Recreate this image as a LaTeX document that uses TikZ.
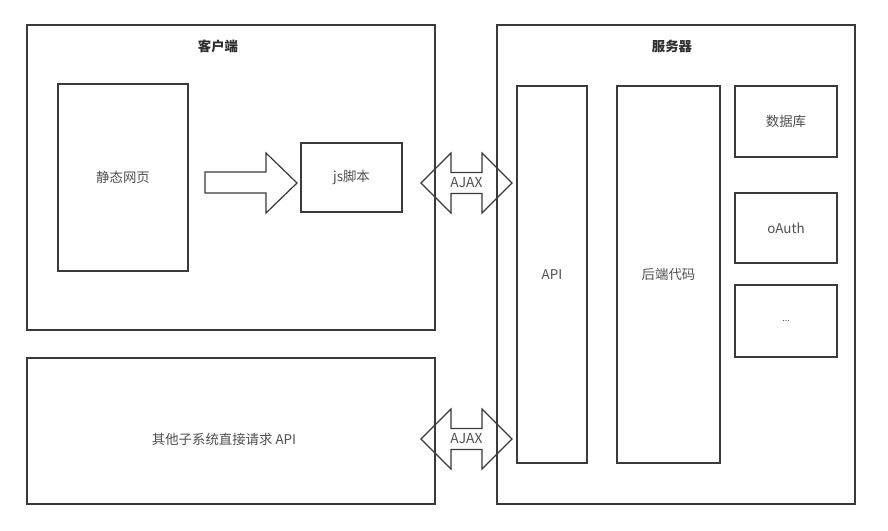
\documentclass[tikz,border=0pt]{standalone}
\usepackage{fontspec}
\setmainfont{Noto Sans CJK SC}
\usetikzlibrary{positioning}
\definecolor{ink}{HTML}{3A3A3A}
\definecolor{inktext}{HTML}{505050}
\definecolor{inktitle}{HTML}{2E2E2E}
\tikzset{
  box/.style={draw=ink,line width=1.2pt,inner sep=0pt,
              font=\fontsize{13.4}{15}\selectfont,text=inktext},
  boxtitle/.style={font=\fontsize{13.4}{15}\selectfont\bfseries,text=inktitle,
                   inner sep=0pt},
  boxlabel/.style={font=\fontsize{13.4}{15}\selectfont,text=inktext,inner sep=0pt},
  blockarr/.style={draw=ink,line width=1.2pt,line join=miter},
  ajaxlbl/.style={font=\fontsize{13.8}{15}\selectfont,text=inktext,inner sep=0pt}
}
\begin{document}
\begin{tikzpicture}[x=1pt,y=-1pt]
  \path[use as bounding box,fill=white] (0,0) rectangle (888,530);
  % client side
  \node[box,minimum width=408pt,minimum height=305pt] (client) at (231,177.5) {};
  \node[boxtitle] (clienttitle) at (218,46) {客户端};
  \node[box,minimum width=130pt,minimum height=187pt] (static) at (123,177.5) {静态网页};
  \node[box,minimum width=101pt,minimum height=69pt] (jsfile) at (351.5,177.5) {js脚本};
  \draw[blockarr] (205,172) -- (266,172) -- (266,153) -- (297,183)
    -- (266,213) -- (266,193) -- (205,193) -- cycle;
  % other subsystems
  \node[box,minimum width=408pt,minimum height=146pt] (other) at (231,431) {};
  \node[boxlabel] (otherlbl) at (224,439) {其他子系统直接请求 API};
  % server side
  \node[box,minimum width=358pt,minimum height=479pt] (server) at (676,264.5) {};
  \node[boxtitle] (servertitle) at (672,46) {服务器};
  \node[box,minimum width=70pt,minimum height=377pt] (api) at (552,274.5) {API};
  \node[box,minimum width=103pt,minimum height=377pt] (backend) at (668.5,274.5) {后端代码};
  \node[box,minimum width=102pt,minimum height=71pt] (db) at (786,121.5) {数据库};
  \node[box,minimum width=102pt,minimum height=70pt] (oauth) at (786,228) {oAuth};
  \node[box,minimum width=102pt,minimum height=72pt,
        font=\fontsize{9}{10}\selectfont] (more) at (786,321) {...};
  % requests
  \foreach \y/\n in {183/top,439/bot}{
    \draw[blockarr] (421,\y) -- (451,{\y-30}) -- (451,{\y-10.5}) -- (482,{\y-10.5})
      -- (482,{\y-30}) -- (512,\y) -- (482,{\y+30}) -- (482,{\y+10.5})
      -- (451,{\y+10.5}) -- (451,{\y+30}) -- cycle;
    \node[ajaxlbl] (ajax\n) at (466.5,\y) {AJAX};
  }
\end{tikzpicture}
\end{document}
